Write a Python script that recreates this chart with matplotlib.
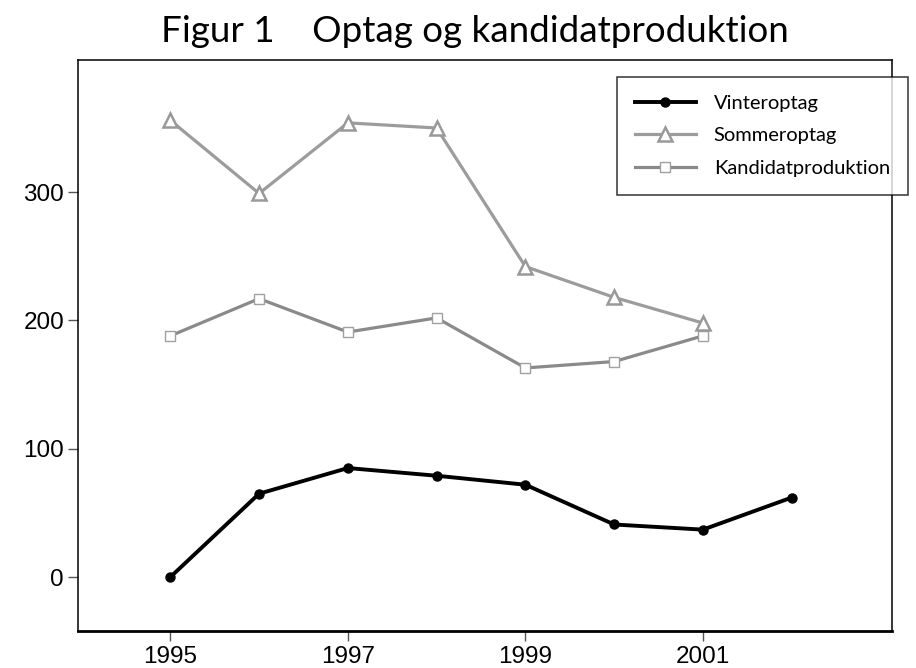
import numpy as np
import matplotlib.pyplot as plt

years = [1995, 1996, 1997, 1998, 1999, 2000, 2001, 2002]
vinter = [0, 65, 85, 79, 72, 41, 37, 62]
sommer_years = [1995, 1996, 1997, 1998, 1999, 2000, 2001]
sommer = [356, 299, 354, 350, 242, 218, 198]
kand_years = [1995, 1996, 1997, 1998, 1999, 2000, 2001]
kand = [188, 217, 191, 202, 163, 168, 188]

xticks = [1995, 1997, 1999, 2001]
yticks = [0, 100, 200, 300]

txt_font = ['Lato', 'DejaVu Sans']
num_font = ['Liberation Sans Narrow', 'Liberation Sans', 'DejaVu Sans']

fig = plt.figure(figsize=(9.16, 6.68), dpi=100)
ax = fig.add_axes([78/916, 1-631/668, (892-78)/916, (631-60)/668])

ax.plot(kand_years, kand, color='#8a8a8a', lw=2.3, marker='s', ms=7,
        mfc='white', mec='#a0a0a0', mew=1.0, label='Kandidatproduktion', zorder=2)
ax.plot(sommer_years, sommer, color='#9c9c9c', lw=2.3, marker='^', ms=10,
        mfc='white', mec='#999999', mew=1.8, label='Sommeroptag', zorder=3)
ax.plot(years, vinter, color='black', lw=2.8, marker='o', ms=6.5,
        mfc='black', mec='black', label='Vinteroptag', zorder=4)

ax.set_xlim(1993.96, 2003.13)
ax.set_ylim(-42, 403)
ax.set_xticks(xticks)
ax.set_yticks(yticks)
ax.set_xticklabels([str(x) for x in xticks], family=num_font, fontsize=17.5)
ax.set_yticklabels([str(y) for y in yticks], family=num_font, fontsize=17.5)
ax.tick_params(axis='both', direction='out', length=7, width=1, color='#555555')
ax.tick_params(axis='x', pad=4)
ax.tick_params(axis='y', pad=3)

for s in ['top', 'right', 'left']:
    ax.spines[s].set_linewidth(1.1)
ax.spines['bottom'].set_linewidth(2.0)

# legend order: Vinter, Sommer, Kandidat
h, l = ax.get_legend_handles_labels()
order = [2, 1, 0]
leg = ax.legend([h[i] for i in order], [l[i] for i in order],
                loc='upper left', bbox_to_anchor=(617/916, 1-77/668),
                bbox_transform=fig.transFigure, frameon=True, fancybox=False,
                prop={'family': txt_font, 'size': 14.5}, handlelength=3.0,
                handletextpad=0.9, labelspacing=0.75, borderpad=0.9,
                borderaxespad=0)
leg.get_frame().set_edgecolor('black')
leg.get_frame().set_linewidth(1.1)
leg.set_zorder(5)

fig.text(475/916, 1-42/668, 'Figur 1    Optag og kandidatproduktion',
         ha='center', va='baseline', family=txt_font, fontsize=26.5)

fig.savefig('out.png', dpi=100)
